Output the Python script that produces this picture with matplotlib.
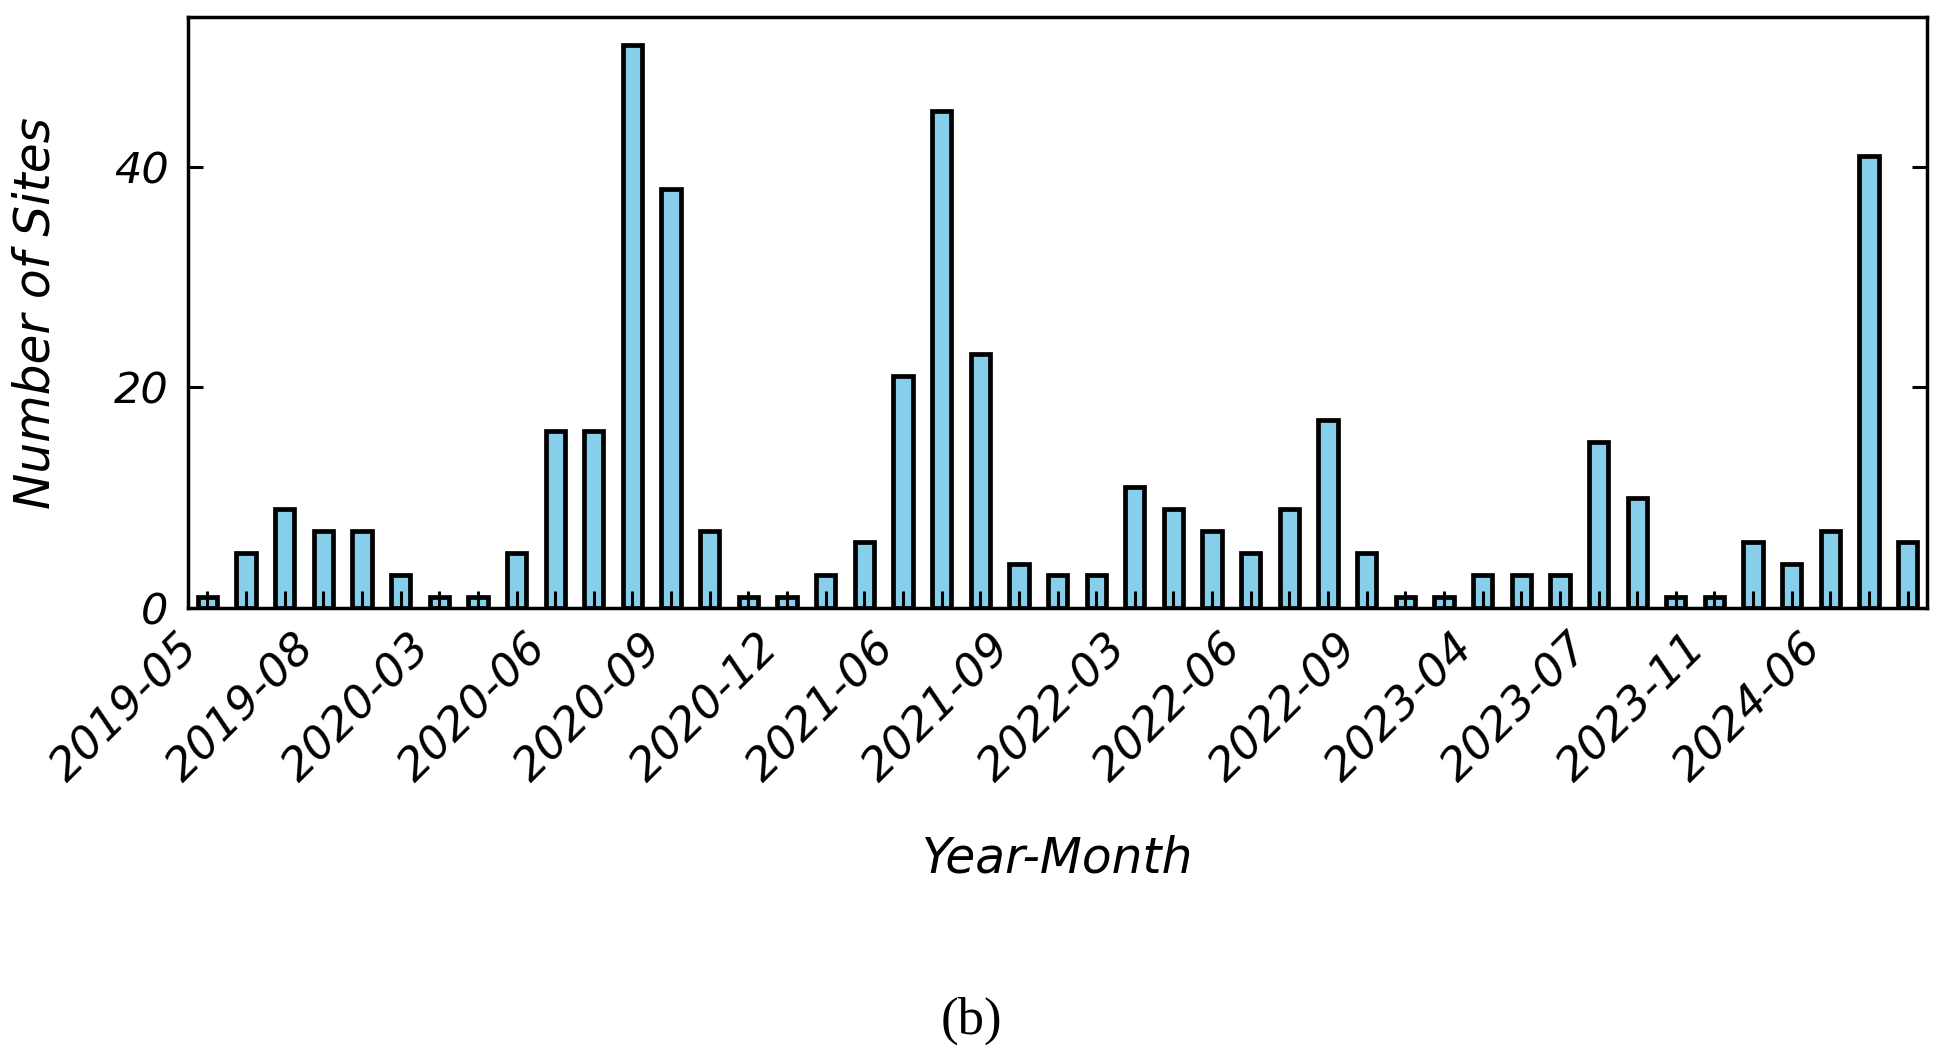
import matplotlib
matplotlib.use("Agg")
import matplotlib.pyplot as plt
import numpy as np

# monthly counts of sites
months = [
    "2019-05", "2019-06", "2019-07", "2019-08", "2019-09", "2019-10",
    "2020-03", "2020-04", "2020-05", "2020-06", "2020-07", "2020-08",
    "2020-09", "2020-10", "2020-11", "2020-12", "2021-04", "2021-05",
    "2021-06", "2021-07", "2021-08", "2021-09", "2021-10", "2021-11",
    "2022-03", "2022-04", "2022-05", "2022-06", "2022-07", "2022-08",
    "2022-09", "2022-10", "2022-11", "2023-04", "2023-05", "2023-06",
    "2023-07", "2023-08", "2023-09", "2023-11", "2024-03", "2024-04",
    "2024-06", "2024-07", "2024-08",
]
n_sites = [
    1, 5, 9, 7, 7, 3,
    1, 1, 5, 16, 16, 51,
    38, 7, 1, 1, 3, 6,
    21, 45, 23, 4, 3, 3,
    11, 9, 7, 5, 9, 17,
    5, 1, 1, 3, 3, 3,
    15, 10, 1, 1, 6, 4,
    7, 41, 6,
]
label_step = 3

fig = plt.figure(figsize=(19.39, 10.63), dpi=100)
ax = fig.add_axes([0.097, 0.428, 0.8968, 0.556])

x = np.arange(len(months))
ax.bar(x, n_sites, width=0.5, color="skyblue", edgecolor="black", linewidth=3.4)

ax.set_xlim(-0.5, len(months) - 0.5)
ax.set_ylim(0, max(n_sites) * 1.05)
ax.set_yticks([0, 20, 40])

ax.set_xticks(x)
ax.set_xticklabels([m if i % label_step == 0 else "" for i, m in enumerate(months)],
                   rotation=45, ha="right", fontsize=32.5, fontstyle="italic")
for lab in ax.get_yticklabels():
    lab.set_fontsize(31)
    lab.set_fontstyle("italic")

ax.tick_params(axis="x", direction="in", length=12, width=2.2, pad=13)
ax.tick_params(axis="y", direction="in", length=11, width=2.2, pad=14, right=True)
for sp in ax.spines.values():
    sp.set_linewidth(2.5)

ax.set_xlabel("Year-Month", fontsize=35, fontstyle="italic", va="center")
ax.xaxis.set_label_coords(0.5, -0.423)
ax.set_ylabel("Number of Sites", fontsize=35, fontstyle="italic", va="center")
ax.yaxis.set_label_coords(-0.088, 0.5)

fig.text(0.5008, 0.04, "(b)", fontsize=38, family="Liberation Serif",
         ha="center", va="center")

fig.savefig("out.png")
